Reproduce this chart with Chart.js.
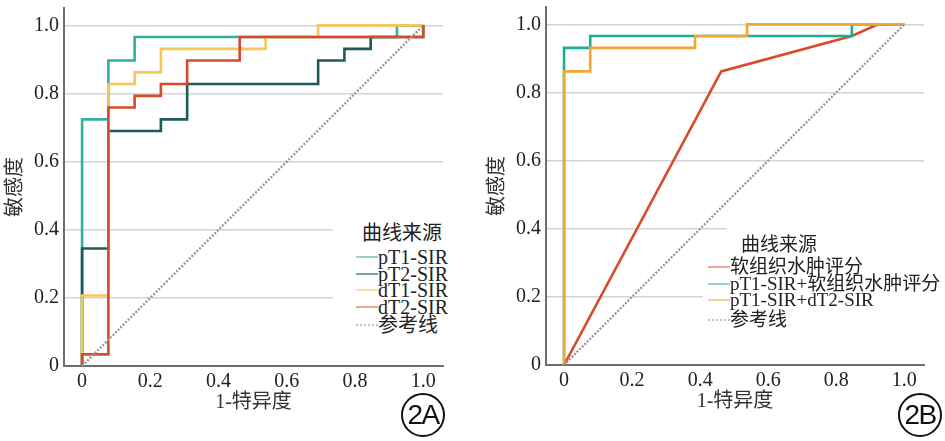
<!DOCTYPE html>
<html>
<head>
<meta charset="utf-8">
<script src="https://cdn.jsdelivr.net/npm/chart.js@4.4.1/dist/chart.umd.min.js"></script>
<style>
html, body { margin: 0; padding: 0; background: #fff; }
#wrap { position: relative; width: 945px; height: 441px; overflow: hidden; }
canvas { position: absolute; top: 0; }
.box { position: absolute; background: #fff; }
.ttl { position: absolute; white-space: nowrap; font-family: "Noto Sans CJK SC", sans-serif; font-size: 20px; line-height: 24px; color: #222; }
.item { position: absolute; white-space: nowrap; height: 20px; line-height: 20px; padding-left: 22px;
        font-family: "Liberation Serif", "Noto Sans CJK SC", serif; font-size: 20px; color: #222; }
.swatch { position: absolute; left: 0; top: 9px; width: 22px; height: 2px; }
.badge { position: absolute; width: 40px; height: 40px; border: 2px solid #111; border-radius: 50%;
         font-family: "Liberation Sans", sans-serif; font-size: 28px; line-height: 40px; text-align: center;
         letter-spacing: -1.5px; color: #111; }
</style>
</head>
<body>
<div id="wrap">
  <canvas id="chartA" width="470" height="441" style="left:0"></canvas>
  <canvas id="chartB" width="475" height="441" style="left:470px"></canvas>
</div>
<script>
// axis ticks shared by both panels
const xTicks = [0, 0.2, 0.4, 0.6, 0.8, 1.0];
const yTicks = [0, 0.2, 0.4, 0.6, 0.8, 1.0];
const tickLabels = ['0', '0.2', '0.4', '0.6', '0.8', '1.0'];

// panel 2A: ROC points (1-specificity, sensitivity)
const pT1Fpr = [0, 0, 0.077, 0.154, 0.923, 1.0];
const pT1Tpr = [0, 0.724, 0.897, 0.966, 1.0, 1.0];
const pT2Fpr = [0, 0, 0.077, 0.231, 0.308, 0.692, 0.769, 0.846, 1.0];
const pT2Tpr = [0, 0.345, 0.690, 0.724, 0.828, 0.897, 0.931, 0.966, 1.0];
const dT1Fpr = [0, 0, 0.077, 0.154, 0.231, 0.538, 0.692, 1.0];
const dT1Tpr = [0, 0.207, 0.828, 0.862, 0.931, 0.966, 1.0, 1.0];
const dT2Fpr = [0, 0, 0.077, 0.154, 0.231, 0.308, 0.462, 1.0];
const dT2Tpr = [0, 0.034, 0.759, 0.793, 0.828, 0.897, 0.966, 1.0];

// panel 2B
const edemaFpr = [0, 0.462, 0.846, 0.923, 1.0];
const edemaTpr = [0, 0.862, 0.966, 1.0, 1.0];
const pT1EdemaFpr = [0, 0, 0.077, 0.846, 1.0];
const pT1EdemaTpr = [0, 0.931, 0.966, 1.0, 1.0];
const pT1dT2Fpr = [0, 0, 0.077, 0.385, 0.538, 1.0];
const pT1dT2Tpr = [0, 0.862, 0.931, 0.966, 1.0, 1.0];

const refFpr = [0, 1];
const refTpr = [0, 1];

const legendA = ['pT1-SIR', 'pT2-SIR', 'dT1-SIR', 'dT2-SIR', '参考线'];
const legendB = ['软组织水肿评分', 'pT1-SIR+软组织水肿评分', 'pT1-SIR+dT2-SIR', '参考线'];

const X_MIN = -0.053, X_MAX = 1.058, Y_MAX = 1.051;
const SERIF = '"Liberation Serif", serif';
const SERIF_CJK = '"Liberation Serif", "Noto Sans CJK SC", serif';

function pts(xs, ys) {
    return xs.map((x, i) => ({ x: x, y: ys[i] }));
}

function rocSet(xs, ys, color, order, stepped) {
    return {
        data: pts(xs, ys),
        borderColor: color,
        borderWidth: 2.6,
        pointRadius: 0,
        stepped: stepped ? 'before' : false,
        tension: 0,
        fill: false,
        borderJoinStyle: 'miter',
        order: order
    };
}

function refSet() {
    return {
        data: pts(refFpr, refTpr),
        borderColor: '#9a9a9a',
        borderWidth: 2.4,
        borderDash: [2, 1.6],
        pointRadius: 0,
        fill: false,
        order: 0
    };
}

function makeOptions(cfg) {
    const tickFont = { family: SERIF, size: 20 };
    return {
        responsive: false,
        animation: false,
        layout: { padding: { left: 0, top: cfg.padTop, right: cfg.padRight, bottom: 0 } },
        plugins: { legend: { display: false }, tooltip: { enabled: false } },
        scales: {
            x: {
                type: 'linear', min: X_MIN, max: X_MAX,
                afterBuildTicks: s => { s.ticks = xTicks.map(v => ({ value: v })); },
                afterFit: s => { s.height = cfg.xH; s.paddingLeft = 0; s.paddingRight = 0; },
                grid: { display: false, drawTicks: false },
                border: { display: true, color: '#6e6e6e', width: 2 },
                ticks: { padding: 4, color: '#222', font: tickFont, autoSkip: false, maxRotation: 0,
                         callback: (v, i) => tickLabels[i] },
                title: { display: true, text: '1-特异度', color: '#333', font: { family: SERIF_CJK, size: 20 },
                         padding: { top: 0, bottom: cfg.xTitlePad } }
            },
            y: {
                type: 'linear', min: 0, max: Y_MAX,
                afterBuildTicks: s => { s.ticks = yTicks.map(v => ({ value: v })); },
                afterFit: s => { s.width = cfg.yW; s.paddingTop = 0; s.paddingBottom = 0; },
                grid: { color: '#d4d4d4', lineWidth: 1.5, drawTicks: false },
                border: { display: true, color: '#6e6e6e', width: 2 },
                ticks: { padding: 5, color: '#222', font: tickFont, autoSkip: false,
                         callback: (v, i) => tickLabels[i] },
                title: { display: true, text: '敏感度', color: '#333', font: { family: SERIF_CJK, size: 20 },
                         padding: { top: cfg.yTitlePad, bottom: 0 } }
            }
        }
    };
}

/**
 * HTML legend with a white backing box (hides the grid lines under it)
 */
function addLegend(title, titlePos, boxes, labels, colors, itemLeft, itemTops, fontSize) {
    const wrap = document.getElementById('wrap');
    boxes.forEach(b => {
        const d = document.createElement('div');
        d.className = 'box';
        Object.assign(d.style, { left: b[0] + 'px', top: b[1] + 'px', width: b[2] + 'px', height: b[3] + 'px' });
        wrap.appendChild(d);
    });
    const t = document.createElement('div');
    t.className = 'ttl';
    t.textContent = title;
    t.style.left = titlePos[0] + 'px';
    t.style.top = titlePos[1] + 'px';
    t.style.fontSize = fontSize + 'px';
    wrap.appendChild(t);
    labels.forEach((label, i) => {
        const item = document.createElement('div');
        item.className = 'item';
        item.style.left = itemLeft + 'px';
        item.style.top = (itemTops[i] - 10) + 'px';
        item.style.fontSize = fontSize + 'px';
        const sw = document.createElement('span');
        sw.className = 'swatch';
        if (colors[i] === 'dotted') {
            sw.style.background = 'repeating-linear-gradient(90deg, #c2c2c2 0 2px, transparent 2px 4px)';
        } else {
            sw.style.background = colors[i];
        }
        item.appendChild(sw);
        item.appendChild(document.createTextNode(label));
        wrap.appendChild(item);
    });
}

function addBadge(text, cx, cy) {
    const b = document.createElement('div');
    b.className = 'badge';
    b.textContent = text;
    b.style.left = (cx - 22) + 'px';
    b.style.top = (cy - 22) + 'px';
    document.getElementById('wrap').appendChild(b);
}

function drawCharts() {
    // ---- 2A ----
    new Chart(document.getElementById('chartA').getContext('2d'), {
        type: 'line',
        data: {
            datasets: [
                rocSet(pT1Fpr, pT1Tpr, '#2fb19d', 4, true),
                rocSet(pT2Fpr, pT2Tpr, '#1f5a57', 3, true),
                rocSet(dT1Fpr, dT1Tpr, '#f6c656', 2, true),
                rocSet(dT2Fpr, dT2Tpr, '#d84b2a', 1, true),
                refSet()
            ]
        },
        options: makeOptions({ padTop: 8, padRight: 27, xH: 75, yW: 64, xTitlePad: 26, yTitlePad: 4 })
    });

    // ---- 2B ----
    new Chart(document.getElementById('chartB').getContext('2d'), {
        type: 'line',
        data: {
            datasets: [
                rocSet(edemaFpr, edemaTpr, '#d84b2a', 3, false),
                rocSet(pT1EdemaFpr, pT1EdemaTpr, '#1eab98', 2, true),
                rocSet(pT1dT2Fpr, pT1dT2Tpr, '#f2a535', 1, true),
                refSet()
            ]
        },
        options: makeOptions({ padTop: 7, padRight: 21, xH: 76, yW: 76, xTitlePad: 27, yTitlePad: 16 })
    });
}

addLegend('曲线来源', [362, 220],
    [[333, 200, 137, 140]],
    legendA, ['#93d3ca', '#6fa7a4', '#fbe2a2', '#eda695', 'dotted'],
    356, [257, 273.5, 290, 306.5, 325], 20);

addLegend('曲线来源', [741, 231],
    [[727, 222, 218, 34], [703, 256, 242, 80]],
    legendB, ['#eda695', '#8fd3cb', '#f8cf92', 'dotted'],
    708, [267, 283.5, 300, 320], 19);

addBadge('2A', 423, 415);
addBadge('2B', 920, 415);

Promise.all([
    document.fonts.load('20px "Liberation Serif"'),
    document.fonts.load('20px "Noto Sans CJK SC"')
]).then(drawCharts, drawCharts);
</script>
</body>
</html>
